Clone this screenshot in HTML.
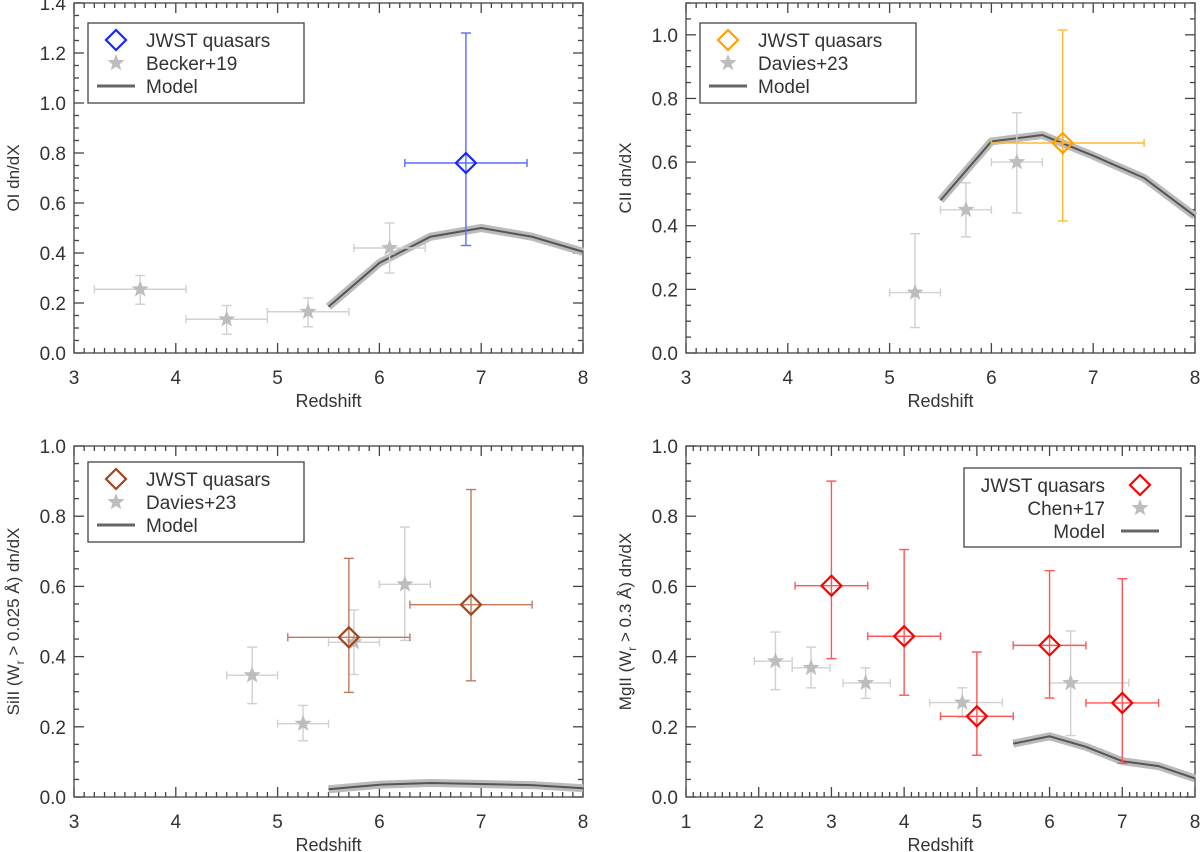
<!DOCTYPE html>
<html><head><meta charset="utf-8">
<style>
html,body{margin:0;padding:0;background:#fff;}
svg{display:block;font-family:"Liberation Sans","DejaVu Sans",sans-serif;}
</style></head>
<body>
<svg id="chart" width="1200" height="852" viewBox="0 0 1200 852"></svg>
<script>
// ---- data ----
// Panel A: OI
const oiJwstZ=[6.85], oiJwstV=[0.76], oiJwstHi=[1.28], oiJwstLo=[0.43], oiJwstZlo=[6.25], oiJwstZhi=[7.45];
const oiLitZ=[3.65,4.5,5.3,6.1], oiLitV=[0.255,0.135,0.165,0.42], oiLitHi=[0.31,0.19,0.22,0.52], oiLitLo=[0.195,0.075,0.105,0.32];
const oiLitZlo=[3.2,4.1,4.9,5.75], oiLitZhi=[4.1,4.9,5.7,6.45];
const oiModZ=[5.5,6,6.5,7,7.5,8], oiModV=[0.185,0.36,0.465,0.5,0.465,0.405];
// Panel B: CII
const ciiJwstZ=[6.7], ciiJwstV=[0.66], ciiJwstHi=[1.015], ciiJwstLo=[0.415], ciiJwstZlo=[6.0], ciiJwstZhi=[7.5];
const ciiLitZ=[5.25,5.75,6.25], ciiLitV=[0.19,0.45,0.6], ciiLitHi=[0.375,0.535,0.755], ciiLitLo=[0.08,0.365,0.44];
const ciiLitZlo=[5.0,5.5,6.0], ciiLitZhi=[5.5,6.0,6.5];
const ciiModZ=[5.5,6,6.5,7,7.5,8], ciiModV=[0.48,0.665,0.685,0.62,0.55,0.43];
// Panel C: SiII
const siJwstZ=[5.7,6.9], siJwstV=[0.455,0.548], siJwstHi=[0.68,0.876], siJwstLo=[0.298,0.331], siJwstZlo=[5.1,6.3], siJwstZhi=[6.3,7.5];
const siLitZ=[4.75,5.25,5.75,6.25], siLitV=[0.347,0.209,0.441,0.606], siLitHi=[0.427,0.261,0.533,0.769], siLitLo=[0.266,0.16,0.349,0.446];
const siLitZlo=[4.5,5.0,5.5,6.0], siLitZhi=[5.0,5.5,6.0,6.5];
const siModZ=[5.5,6,6.5,7,7.5,8], siModV=[0.022,0.035,0.04,0.037,0.034,0.025];
// Panel D: MgII
const mgJwstZ=[3,4,5,6,7], mgJwstV=[0.602,0.458,0.23,0.432,0.268], mgJwstHi=[0.9,0.705,0.413,0.645,0.622], mgJwstLo=[0.394,0.29,0.119,0.282,0.096];
const mgJwstZlo=[2.5,3.5,4.5,5.5,6.5], mgJwstZhi=[3.5,4.5,5.5,6.5,7.5];
const mgLitZ=[2.23,2.72,3.47,4.8,6.29], mgLitV=[0.387,0.368,0.325,0.269,0.325], mgLitHi=[0.47,0.427,0.368,0.311,0.473], mgLitLo=[0.306,0.311,0.281,0.227,0.175];
const mgLitZlo=[1.94,2.46,3.16,4.35,6.0], mgLitZhi=[2.46,2.98,3.81,5.35,7.09];
const mgModZ=[5.5,6,6.5,7,7.5,8], mgModV=[0.152,0.173,0.143,0.102,0.088,0.053];
const yTicksA=["0.0","0.2","0.4","0.6","0.8","1.0","1.2","1.4"];
const yTicksB=["0.0","0.2","0.4","0.6","0.8","1.0"];
const xTicks38=["3","4","5","6","7","8"];
const xTicks18=["1","2","3","4","5","6","7","8"];

const NS="http://www.w3.org/2000/svg";
const svg=document.getElementById('chart');
function mk(tag,attrs,parent){const e=document.createElementNS(NS,tag);for(const k in attrs)e.setAttribute(k,attrs[k]);(parent||svg).appendChild(e);return e;}

function panel(cfg){
  const g=mk('g',{});
  
  
  const {x0,x1,y0,y1,xmin,xmax,ymin,ymax}=cfg;
  const X=v=>x0+(v-xmin)/(xmax-xmin)*(x1-x0);
  const Y=v=>y1-(v-ymin)/(ymax-ymin)*(y1-y0);
  const ax=mk('g',{stroke:'#444','stroke-width':1.3,fill:'none'},g);
  
  
  mk('rect',{x:x0,y:y0,width:x1-x0,height:y1-y0},ax);
  for(let v=xmin;v<=xmax+1e-9;v+=0.1){
    const major=Math.abs(v-Math.round(v))<1e-6;
    const L=major?10:5, px=X(v);
    mk('line',{x1:px,y1:y1,x2:px,y2:y1-L},ax);
    mk('line',{x1:px,y1:y0,x2:px,y2:y0+L},ax);
  }
  cfg.xLabels.forEach(s=>{
    const t=mk('text',{x:X(+s),y:y1+31,'text-anchor':'middle','font-size':19,fill:'#333'},g);t.textContent=s;
    
    
  });
  for(let v=ymin;v<=ymax+1e-9;v+=0.05){
    const major=Math.abs(v/0.2-Math.round(v/0.2))<1e-6;
    const L=major?10:5, py=Y(v);
    mk('line',{x1:x0,y1:py,x2:x0+L,y2:py},ax);
    mk('line',{x1:x1,y1:py,x2:x1-L,y2:py},ax);
  }
  cfg.yLabels.forEach(s=>{
    const t=mk('text',{x:x0-8,y:Y(+s)+7,'text-anchor':'end','font-size':19,fill:'#333'},g);t.textContent=s;
    
    
  });
  const xt=mk('text',{x:(x0+x1)/2,y:y1+54,'text-anchor':'middle','font-size':18,fill:'#333'},g);xt.textContent='Redshift';
  
  
  const yt=mk('text',{x:0,y:0,'text-anchor':'middle','font-size':17,fill:'#333',transform:`translate(${x0-55},${(y0+y1)/2}) rotate(-90)`},g);
  yt.innerHTML=cfg.ytitle;
  
  
  const pts=cfg.modZ.map((z,i)=>X(z)+','+Y(cfg.modV[i])).join(' ');
  const band=mk('polyline',{points:pts,fill:'none',stroke:'#bbb','stroke-width':8,'stroke-linejoin':'round'},g);
  
  
  const ml=mk('polyline',{points:pts,fill:'none',stroke:'#555','stroke-width':2},g);
  
  
  function errbar(gp,px,py,xl,xh,yl,yh,col){
    mk('line',{x1:xl,y1:py,x2:xh,y2:py,stroke:col,'stroke-width':1.4},gp);
    mk('line',{x1:px,y1:yl,x2:px,y2:yh,stroke:col,'stroke-width':1.4},gp);
    [xl,xh].forEach(xx=>mk('line',{x1:xx,y1:py-4,x2:xx,y2:py+4,stroke:col,'stroke-width':1.4},gp));
    [yl,yh].forEach(yy=>mk('line',{x1:px-5,y1:yy,x2:px+5,y2:yy,stroke:col,'stroke-width':1.4},gp));
  }
  function star(gp,cx,cy,r,col){
    let p=[];for(let k=0;k<10;k++){const a=-Math.PI/2+k*Math.PI/5;const rr=k%2?r*0.42:r;p.push((cx+rr*Math.cos(a)).toFixed(1)+','+(cy+rr*Math.sin(a)).toFixed(1));}
    return mk('polygon',{points:p.join(' '),fill:col},gp);
  }
  cfg.litZ.forEach((z,i)=>{
    const gp=mk('g',{},g);
    
    
    errbar(gp,X(z),Y(cfg.litV[i]),X(cfg.litZlo[i]),X(cfg.litZhi[i]),Y(cfg.litLo[i]),Y(cfg.litHi[i]),'#d0d0d0');
    star(gp,X(z),Y(cfg.litV[i]),9,'#bdbdbd');
  });
  cfg.jZ.forEach((z,i)=>{
    const gp=mk('g',{},g);
    
    
    const px=X(z),py=Y(cfg.jV[i]);
    errbar(gp,px,py,X(cfg.jZlo[i]),X(cfg.jZhi[i]),Y(cfg.jLo[i]),Y(cfg.jHi[i]),cfg.errCol);
    mk('polygon',{points:`${px},${py-10} ${px+10},${py} ${px},${py+10} ${px-10},${py}`,fill:'none',stroke:cfg.col,'stroke-width':2.2},gp);
  });
  const L=cfg.leg;
  const lg=mk('g',{},g);
  
  
  mk('rect',{x:L.x,y:L.y,width:L.w,height:L.h,fill:'#fff',stroke:'#444','stroke-width':1.3},lg);
  const names=['JWST quasars',cfg.litName,'Model'];
  names.forEach((n,k)=>{
    const ry=L.y+17+k*23;
    const e=mk('g',{},lg);
    
    
    let mx,tx,anchor;
    if(L.right){mx=L.x+L.w-41;tx=L.x+L.w-76;anchor='end';}
    else{mx=L.x+28;tx=L.x+58;anchor='start';}
    if(k===0) mk('polygon',{points:`${mx},${ry-10} ${mx+10},${ry} ${mx},${ry+10} ${mx-10},${ry}`,fill:'none',stroke:cfg.col,'stroke-width':2.2},e);
    if(k===1) star(e,mx,ry,9,'#bdbdbd');
    if(k===2) mk('line',{x1:mx-19,y1:ry,x2:mx+19,y2:ry,stroke:'#666','stroke-width':3},e);
    const t=mk('text',{x:tx,y:ry+7,'text-anchor':anchor,'font-size':19,fill:'#333'},e);t.textContent=n;
  });
}

panel({name:'panel-oi',x0:74,x1:583,y0:3,y1:353,xmin:3,xmax:8,ymin:0,ymax:1.4,xLabels:xTicks38,yLabels:yTicksA,
  ytitle:'OI dn/dX',modZ:oiModZ,modV:oiModV,litZ:oiLitZ,litV:oiLitV,litHi:oiLitHi,litLo:oiLitLo,litZlo:oiLitZlo,litZhi:oiLitZhi,
  jZ:oiJwstZ,jV:oiJwstV,jHi:oiJwstHi,jLo:oiJwstLo,jZlo:oiJwstZlo,jZhi:oiJwstZhi,col:'#1428ff',errCol:'#5a6bff',litName:'Becker+19',
  leg:{x:88,y:23,w:216,h:80}});
panel({name:'panel-cii',x0:686,x1:1195,y0:3,y1:353,xmin:3,xmax:8,ymin:0,ymax:1.1,xLabels:xTicks38,yLabels:yTicksB,
  ytitle:'CII dn/dX',modZ:ciiModZ,modV:ciiModV,litZ:ciiLitZ,litV:ciiLitV,litHi:ciiLitHi,litLo:ciiLitLo,litZlo:ciiLitZlo,litZhi:ciiLitZhi,
  jZ:ciiJwstZ,jV:ciiJwstV,jHi:ciiJwstHi,jLo:ciiJwstLo,jZlo:ciiJwstZlo,jZhi:ciiJwstZhi,col:'#ffa000',errCol:'#ffb733',litName:'Davies+23',
  leg:{x:700,y:23,w:216,h:80}});
panel({name:'panel-siii',x0:74,x1:583,y0:446,y1:797,xmin:3,xmax:8,ymin:0,ymax:1.0,xLabels:xTicks38,yLabels:yTicksB,
  ytitle:'SiII (W<tspan dy="5" font-size="12">r</tspan><tspan dy="-5"> &gt; 0.025 Å) dn/dX</tspan>',modZ:siModZ,modV:siModV,litZ:siLitZ,litV:siLitV,litHi:siLitHi,litLo:siLitLo,litZlo:siLitZlo,litZhi:siLitZhi,
  jZ:siJwstZ,jV:siJwstV,jHi:siJwstHi,jLo:siJwstLo,jZlo:siJwstZlo,jZhi:siJwstZhi,col:'#a0461e',errCol:'#c07a5a',litName:'Davies+23',
  leg:{x:88,y:462,w:216,h:80}});
panel({name:'panel-mgii',x0:686,x1:1195,y0:446,y1:797,xmin:1,xmax:8,ymin:0,ymax:1.0,xLabels:xTicks18,yLabels:yTicksB,
  ytitle:'MgII (W<tspan dy="5" font-size="12">r</tspan><tspan dy="-5"> &gt; 0.3 Å) dn/dX</tspan>',modZ:mgModZ,modV:mgModV,litZ:mgLitZ,litV:mgLitV,litHi:mgLitHi,litLo:mgLitLo,litZlo:mgLitZlo,litZhi:mgLitZhi,
  jZ:mgJwstZ,jV:mgJwstV,jHi:mgJwstHi,jLo:mgJwstLo,jZlo:mgJwstZlo,jZhi:mgJwstZhi,col:'#ff0000',errCol:'#ff5555',litName:'Chen+17',
  leg:{x:964,y:468,w:217,h:79,right:true}});
</script>
</body></html>
